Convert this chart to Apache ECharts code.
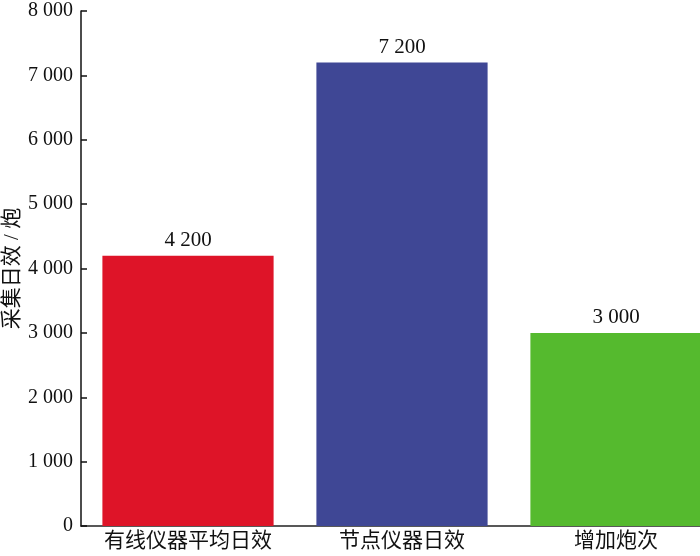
<!DOCTYPE html>
<html>
<head>
<meta charset="utf-8">
<script src="https://cdn.jsdelivr.net/npm/echarts@6/dist/echarts.min.js"></script>
<style>
  html, body { margin: 0; padding: 0; background: #fff; }
  #chart { width: 700px; height: 556px; }
</style>
</head>
<body>
<div id="chart"></div>
<script>
  // 数据
  var categories = ['有线仪器平均日效', '节点仪器日效', '增加炮次'];
  var values = [4200, 7200, 3000];
  var barColors = ['#DE1428', '#3F4795', '#55BA2E'];
  var yTicks = [0, 1000, 2000, 3000, 4000, 5000, 6000, 7000, 8000];

  var font = '"Liberation Serif", "Noto Sans CJK SC", serif';

  // 千位用空格分隔: 4200 -> "4 200"
  function fmt(v) {
    return String(v).replace(/\B(?=(\d{3})+(?!\d))/g, ' ');
  }

  var myChart = echarts.init(document.getElementById('chart'));
  myChart.setOption({
    animation: false,
    grid: { left: 81, top: 11, bottom: 30, width: 642, containLabel: false, outerBoundsMode: 'none' },
    xAxis: {
      type: 'category',
      data: categories,
      axisLine: { lineStyle: { color: '#222', width: 1.5 } },
      axisTick: { show: true, inside: true, alignWithLabel: true, length: 2, lineStyle: { color: '#444' } },
      axisLabel: { color: '#111', fontSize: 21, fontFamily: font, margin: 5, interval: 0, hideOverlap: false }
    },
    yAxis: {
      type: 'value',
      min: yTicks[0],
      max: yTicks[yTicks.length - 1],
      interval: 1000,
      name: '采集日效 / 炮',
      nameLocation: 'middle',
      nameGap: 58,
      nameMoveOverlap: false,
      nameTextStyle: { color: '#111', fontSize: 21, fontFamily: font },
      splitLine: { show: false },
      axisLine: { show: true, lineStyle: { color: '#111', width: 1.5 } },
      axisTick: { show: true, inside: true, length: 6, lineStyle: { color: '#111', width: 1.5 } },
      axisLabel: {
        color: '#111', fontSize: 20, fontFamily: font, margin: 8,
        formatter: function (v) { return fmt(v); }
      }
    },
    series: [{
      type: 'bar',
      data: values.map(function (v, i) {
        return { value: v, itemStyle: { color: barColors[i] } };
      }),
      barCategoryGap: '20%',
      label: {
        show: true,
        position: 'top',
        distance: 5,
        color: '#111',
        fontSize: 21,
        fontFamily: font,
        formatter: function (p) { return fmt(p.value); }
      }
    }]
  });
</script>
</body>
</html>
